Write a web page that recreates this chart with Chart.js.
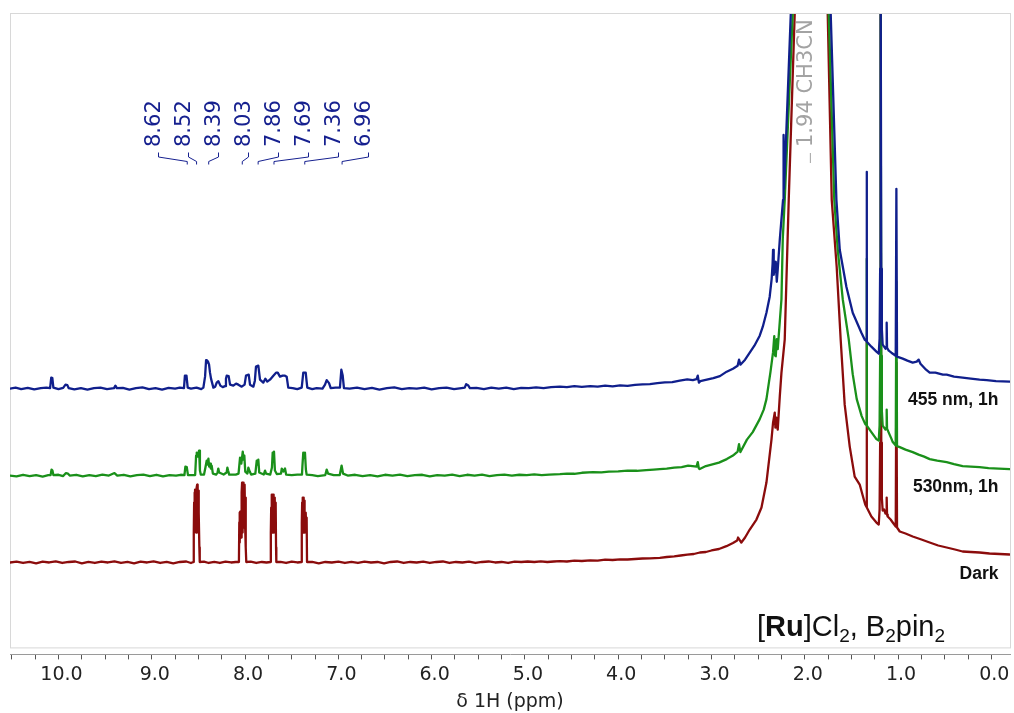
<!DOCTYPE html>
<html>
<head>
<meta charset="utf-8">
<script src="https://cdn.jsdelivr.net/npm/chart.js@4.4.1/dist/chart.umd.min.js"></script>
<style>
html,body{margin:0;padding:0;background:#fff;}
#wrap{width:1014px;height:713px;position:relative;}
</style>
</head>
<body>
<div id="wrap"><canvas id="c" width="1014" height="713"></canvas></div>
<script>
// ---- DATA (ppm, intensity relative to each trace's own baseline) ----
const traceNames = ['455 nm, 1h', '530nm, 1h', 'Dark'];
const traceOffsets = [17.4, 8.7, 0];

const blue455 = [
[10.52,0.00],[10.46,0.10],[10.40,-0.05],[10.33,0.08],[10.26,-0.08],[10.19,0.05],[10.13,0.10],[10.09,0.05],[10.078,1.10],[10.066,1.05],[10.055,0.10],[10.00,-0.05],[9.95,0.08],[9.925,0.40],[9.905,0.35],[9.89,0.05],[9.83,-0.08],[9.76,0.05],[9.69,-0.10],[9.62,0.05],[9.55,0.10],[9.48,-0.05],[9.405,0.05],[9.39,0.30],[9.375,0.05],[9.31,0.08],[9.24,-0.10],[9.17,0.05],[9.10,0.12],[9.03,-0.05],[8.96,0.05],[8.89,-0.10],[8.82,0.08],[8.75,0.00],[8.70,0.10],
[8.655,0.05],[8.645,1.30],[8.628,1.30],[8.615,0.10],[8.58,0.00],[8.52,0.10],[8.47,-0.05],
[8.447,0.10],[8.429,1.20],[8.418,2.85],[8.412,2.60],[8.405,2.80],[8.397,2.70],[8.386,2.40],[8.376,1.60],[8.365,1.00],[8.354,0.60],[8.34,0.10],[8.32,0.20],[8.304,0.60],[8.286,0.75],[8.265,0.30],[8.24,0.15],[8.215,0.25],[8.205,1.00],[8.197,1.30],[8.176,1.25],[8.161,0.40],[8.126,0.30],[8.097,0.50],[8.072,0.40],[8.036,0.20],[8.005,0.40],[7.99,1.30],[7.961,1.40],[7.947,0.40],[7.911,0.20],[7.895,0.80],[7.883,2.20],[7.858,2.30],[7.84,0.90],[7.805,0.60],[7.783,1.00],[7.762,0.70],[7.733,0.90],[7.697,1.30],[7.668,1.60],[7.65,1.60],[7.626,1.20],[7.597,1.30],[7.572,1.30],[7.554,1.20],[7.537,0.10],[7.49,0.05],[7.44,-0.05],[7.393,0.10],[7.385,0.80],[7.376,1.60],[7.35,1.60],[7.34,0.70],[7.333,0.10],[7.28,-0.05],[7.233,0.05],[7.17,0.00],[7.143,0.40],[7.125,0.85],[7.10,0.55],[7.082,0.05],[7.03,0.10],[6.983,0.10],[6.968,1.90],[6.954,1.35],[6.94,0.05],
[6.88,0.00],[6.80,0.10],[6.72,-0.05],[6.64,0.08],[6.56,-0.10],[6.48,0.05],[6.40,0.12],[6.32,-0.05],[6.24,0.05],[6.16,0.00],[6.08,0.10],[6.00,-0.08],[5.92,0.05],[5.84,0.10],[5.76,-0.05],[5.68,0.05],[5.645,0.10],[5.63,0.45],[5.61,0.35],[5.59,0.05],[5.52,0.08],[5.44,-0.05],[5.36,0.10],[5.28,0.00],[5.20,0.10],[5.12,-0.05],[5.04,0.08],[4.96,0.05],[4.88,0.12],[4.80,0.05],[4.72,0.15],
[4.625,0.20],[4.55,0.15],[4.47,0.25],[4.39,0.18],[4.30,0.25],[4.22,0.20],[4.14,0.30],[4.06,0.22],[3.98,0.32],[3.90,0.28],[3.82,0.38],[3.74,0.42],[3.66,0.45],[3.58,0.55],[3.50,0.62],[3.42,0.65],[3.34,0.80],[3.26,0.92],[3.20,0.85],[3.16,0.95],[3.147,1.30],[3.135,0.60],[3.12,0.75],[3.05,0.90],[2.98,1.05],[2.91,1.25],[2.837,1.70],[2.77,2.00],[2.72,2.30],[2.705,2.90],[2.69,2.40],[2.64,2.90],[2.59,3.60],[2.54,4.30],[2.483,5.30],[2.45,6.20],[2.411,7.60],[2.376,9.20],[2.355,11.00],[2.345,12.50],[2.340,13.90],[2.333,11.40],[2.325,12.00],[2.311,12.70],[2.300,10.70],[2.290,11.90],[2.268,14.90],[2.233,18.90],[2.229,19.40],[2.2254,25.40],[2.2225,20.00],[2.199,25.40],[2.150,37.50],[2.14,40.00],
[1.94,300],
[1.73,40.00],[1.722,37.50],[1.661,18.90],[1.625,13.90],[1.554,10.20],[1.486,7.60],[1.393,5.60],[1.357,4.90],[1.341,4.80],[1.337,21.70],[1.333,4.70],[1.286,4.20],[1.232,3.70],[1.207,3.50],[1.198,5.00],[1.192,12.0],[1.189,40.0],[1.186,300],[1.183,40.0],[1.180,12.0],[1.174,6.0],[1.165,4.40],[1.135,4.00],[1.126,4.20],[1.122,6.60],[1.118,4.10],[1.10,3.80],[1.0715,3.60],[1.025,3.30],[1.018,20.0],[1.011,3.20],[0.95,3.00],[0.90,2.80],[0.843,2.60],[0.80,2.70],[0.779,2.90],[0.76,2.50],[0.70,1.90],[0.661,1.60],[0.60,1.60],[0.52,1.40],[0.479,1.40],[0.40,1.20],[0.308,1.10],[0.22,1.00],[0.126,0.90],[0.05,0.85],[-0.05,0.75],[-0.196,0.70]
];

const green530 = [
[10.52,0.00],[10.45,-0.08],[10.38,0.08],[10.31,-0.05],[10.24,0.05],[10.17,-0.10],[10.11,0.05],[10.085,0.05],[10.075,0.60],[10.065,0.50],[10.055,0.05],[10.00,0.08],[9.95,-0.05],[9.92,0.25],[9.90,0.20],[9.88,0.00],[9.81,0.08],[9.74,-0.08],[9.67,0.05],[9.60,-0.05],[9.53,0.10],[9.46,0.00],[9.40,0.25],[9.37,0.00],[9.30,0.08],[9.23,-0.08],[9.16,0.05],[9.09,0.10],[9.02,-0.05],[8.95,0.08],[8.88,-0.08],[8.81,0.05],[8.74,0.00],[8.69,0.08],
[8.65,0.05],[8.64,0.90],[8.625,0.85],[8.612,0.05],[8.56,0.05],[8.535,0.05],[8.525,2.00],[8.518,2.30],[8.506,1.90],[8.493,2.50],[8.484,0.50],[8.475,0.10],[8.44,0.10],[8.425,0.80],[8.411,1.50],[8.40,1.10],[8.393,1.70],[8.385,0.90],[8.376,1.20],[8.367,0.70],[8.358,1.00],[8.345,0.20],[8.31,0.10],[8.295,0.30],[8.287,0.70],[8.278,0.30],[8.23,0.10],[8.198,0.30],[8.19,0.80],[8.182,0.50],[8.17,0.10],[8.10,0.10],[8.07,0.20],[8.062,1.00],[8.054,1.80],[8.04,1.20],[8.025,2.40],[8.016,1.60],[8.008,2.00],[7.998,0.40],[7.975,0.20],[7.965,0.80],[7.95,0.40],[7.935,0.10],[7.89,0.20],[7.875,1.50],[7.866,1.10],[7.858,1.60],[7.848,0.30],[7.80,0.10],[7.786,0.50],[7.775,0.20],[7.73,0.10],[7.712,0.80],[7.704,2.30],[7.697,1.60],[7.69,2.40],[7.68,0.50],[7.66,0.15],[7.615,0.20],[7.607,0.70],[7.59,0.40],[7.572,0.70],[7.56,0.10],[7.50,0.05],[7.44,0.10],[7.39,0.10],[7.385,1.00],[7.376,2.30],[7.366,1.80],[7.358,2.30],[7.348,0.60],[7.34,0.10],[7.28,0.05],[7.22,-0.05],[7.14,0.05],[7.125,0.60],[7.11,0.20],[7.05,0.05],[6.985,0.05],[6.965,1.00],[6.95,0.20],
[6.90,0.00],[6.82,0.08],[6.74,-0.05],[6.66,0.05],[6.58,-0.08],[6.50,0.08],[6.42,0.00],[6.34,0.10],[6.26,-0.05],[6.18,0.05],[6.10,0.08],[6.02,-0.08],[5.94,0.05],[5.86,0.00],[5.78,0.10],[5.70,-0.05],[5.62,0.08],[5.54,0.00],[5.46,0.10],[5.38,-0.05],[5.30,0.05],[5.22,0.10],[5.14,0.00],[5.06,0.08],[4.98,0.05],[4.90,0.12],[4.82,0.05],[4.74,0.10],
[4.625,0.15],[4.55,0.20],[4.47,0.18],[4.39,0.28],[4.27,0.35],[4.18,0.32],[4.10,0.40],[4.00,0.42],[3.90,0.50],[3.80,0.48],[3.70,0.55],[3.62,0.60],[3.554,0.65],[3.48,0.70],[3.40,0.80],[3.32,0.85],[3.25,1.00],[3.18,0.92],[3.16,0.90],[3.147,1.35],[3.135,0.70],[3.126,0.65],[3.06,0.95],[3.00,1.10],[2.92,1.30],[2.836,1.65],[2.77,2.00],[2.72,2.40],[2.705,3.15],[2.69,2.35],[2.62,3.60],[2.558,4.35],[2.483,5.65],[2.44,6.60],[2.411,7.65],[2.368,10.35],[2.340,12.35],[2.327,13.95],[2.318,12.00],[2.311,11.95],[2.300,13.65],[2.290,12.65],[2.25,17.65],[2.236,23.65],[2.2147,27.65],[2.129,46.25],[2.12,50.0],
[1.94,300],
[1.75,50.0],[1.743,46.25],[1.684,27.65],[1.647,22.65],[1.593,17.65],[1.529,13.65],[1.486,10.15],[1.443,7.65],[1.39,5.95],[1.352,5.15],[1.341,5.10],[1.337,21.70],[1.333,5.00],[1.286,4.35],[1.232,3.65],[1.207,3.50],[1.198,5.0],[1.192,12.0],[1.189,40.0],[1.186,300],[1.183,40.0],[1.180,12.0],[1.174,6.5],[1.165,5.0],[1.135,4.6],[1.126,4.8],[1.122,6.6],[1.118,4.7],[1.10,4.3],[1.0715,3.7],[1.057,3.35],[1.025,3.00],[1.018,19.4],[1.011,2.95],[0.982,2.85],[0.92,2.60],[0.843,2.35],[0.78,2.10],[0.72,1.90],[0.661,1.65],[0.58,1.50],[0.479,1.35],[0.40,1.15],[0.308,0.95],[0.22,0.90],[0.126,0.85],[0.03,0.75],[-0.08,0.70],[-0.196,0.65]
];

const darkRef = [
[10.52,0.00],[10.45,0.08],[10.38,-0.05],[10.31,0.05],[10.24,-0.08],[10.17,0.08],[10.10,0.00],[10.03,0.10],[9.96,-0.05],[9.89,0.05],[9.82,0.10],[9.75,-0.08],[9.68,0.05],[9.61,-0.05],[9.54,0.08],[9.47,0.00],[9.40,0.10],[9.33,-0.05],[9.26,0.05],[9.19,-0.08],[9.12,0.08],[9.05,0.00],[8.98,0.10],[8.91,-0.05],[8.84,0.05],[8.77,-0.08],[8.70,0.05],[8.63,0.10],[8.58,-0.05],
[8.555,0.05],[8.550,3.00],[8.546,6.00],[8.542,7.00],[8.539,4.00],[8.536,7.30],[8.533,3.50],[8.529,7.00],[8.526,3.00],[8.522,7.20],[8.519,3.50],[8.516,7.50],[8.513,7.80],[8.510,3.50],[8.507,7.70],[8.503,3.00],[8.499,7.20],[8.495,5.00],[8.490,1.50],[8.486,0.05],
[8.44,0.08],[8.39,-0.05],[8.33,0.05],[8.27,-0.05],[8.21,0.08],[8.15,0.00],[8.10,0.05],
[8.066,0.05],[8.062,4.00],[8.059,5.00],[8.056,2.00],[8.052,5.10],[8.049,2.50],[8.046,5.10],[8.042,2.50],[8.039,5.00],[8.035,7.00],[8.032,8.00],[8.028,3.00],[8.025,8.00],[8.021,3.50],[8.018,8.00],[8.015,3.50],[8.011,7.80],[8.007,4.00],[8.003,7.80],[7.999,3.50],[7.995,6.50],[7.991,1.50],[7.987,0.05],
[7.94,0.08],[7.88,-0.05],[7.82,0.05],[7.77,0.00],
[7.728,0.05],[7.724,3.00],[7.720,5.50],[7.716,3.00],[7.712,6.80],[7.708,3.00],[7.704,6.80],[7.700,3.00],[7.696,6.80],[7.692,3.00],[7.688,6.50],[7.684,3.00],[7.680,6.30],[7.676,3.00],[7.672,6.00],[7.668,1.50],[7.665,0.05],
[7.62,0.05],[7.56,-0.05],[7.50,0.08],[7.44,0.00],
[7.396,0.05],[7.392,4.00],[7.388,6.00],[7.384,3.00],[7.380,6.50],[7.376,3.00],[7.372,6.50],[7.368,3.00],[7.364,6.20],[7.360,3.00],[7.356,5.00],[7.352,3.00],[7.348,5.00],[7.344,3.00],[7.340,4.50],[7.336,0.05],
[7.28,0.05],[7.21,-0.08],[7.14,0.05],[7.07,0.00],[7.00,0.08],[6.93,-0.05],
[6.86,0.05],[6.79,-0.05],[6.72,0.08],[6.65,0.00],[6.58,0.05],[6.51,-0.08],[6.44,0.05],[6.37,0.10],[6.30,-0.05],[6.23,0.05],[6.16,0.00],[6.09,0.08],[6.02,-0.05],[5.95,0.05],[5.88,0.10],[5.81,-0.05],[5.74,0.05],[5.67,0.00],[5.60,0.08],[5.53,-0.05],[5.46,0.05],[5.39,0.10],[5.32,0.00],[5.25,0.05],[5.18,-0.05],[5.11,0.08],[5.04,0.05],[4.97,0.10],[4.90,0.05],[4.83,0.12],[4.76,0.05],[4.69,0.10],
[4.625,0.13],[4.55,0.10],[4.47,0.18],[4.39,0.15],[4.30,0.22],[4.22,0.18],[4.14,0.28],[4.06,0.25],[3.98,0.32],[3.90,0.30],[3.82,0.35],[3.74,0.40],[3.66,0.42],[3.554,0.47],[3.48,0.55],[3.40,0.62],[3.33,0.70],[3.26,0.78],[3.19,0.85],[3.125,1.00],[3.06,1.05],[3.00,1.20],[2.92,1.35],[2.84,1.63],[2.77,1.95],[2.725,2.20],[2.715,2.50],[2.68,2.00],[2.64,2.50],[2.59,3.30],[2.518,4.30],[2.464,5.50],[2.411,8.00],[2.357,12.30],[2.340,14.00],[2.322,15.00],[2.315,13.50],[2.305,14.50],[2.290,13.30],[2.268,16.60],[2.25,19.00],[2.215,22.30],[2.172,36.30],[2.108,54.90],[2.10,57.0],
[1.94,300],
[1.76,57.0],[1.754,54.90],[1.711,36.30],[1.658,29.60],[1.615,22.30],[1.572,15.80],[1.518,11.60],[1.465,8.60],[1.411,7.80],[1.382,6.80],[1.352,5.80],[1.341,5.60],[1.337,22.40],[1.333,5.50],[1.286,4.60],[1.232,4.00],[1.207,3.80],[1.198,5.3],[1.192,12.0],[1.189,40.0],[1.186,300],[1.183,40.0],[1.180,12.0],[1.174,6.5],[1.165,5.2],[1.149,5.3],[1.135,4.9],[1.126,5.0],[1.122,6.5],[1.118,4.8],[1.111,4.6],[1.08,4.3],[1.057,4.00],[1.025,3.60],[1.018,20.0],[1.011,3.50],[0.982,3.10],[0.92,2.90],[0.843,2.60],[0.75,2.30],[0.661,2.00],[0.57,1.70],[0.479,1.50],[0.39,1.30],[0.308,1.10],[0.22,1.05],[0.126,1.00],[0.02,0.90],[-0.09,0.85],[-0.196,0.80]
];

const peakLabels = ['8.62','8.52','8.39','8.03','7.86','7.69','7.36','6.96'];
const peakPpm = [8.62, 8.52, 8.39, 8.03, 7.86, 7.69, 7.36, 6.96];
const solventLabel = '1.94 CH3CN';
const solventPpm = 1.94;
const majorTickValues = [10,9,8,7,6,5,4,3,2,1,0];
const tickLabels = ['10.0','9.0','8.0','7.0','6.0','5.0','4.0','3.0','2.0','1.0','0.0'];
const axisTitle = 'δ 1H (ppm)';
const titleRuns = [['[',false,false],['Ru',true,false],[']Cl',false,false],['2',false,true],[', B',false,false],['2',false,true],['pin',false,false],['2',false,true]];

// ---- CHART ----
const colors = ['#101f8c', '#1a901a', '#8b0c0c'];
const rawSeries = [blue455, green530, darkRef];

const datasets = rawSeries.map((arr, i) => ({
  label: traceNames[i],
  data: arr.map(p => ({x: p[0], y: p[1] + traceOffsets[i]})),
  borderColor: colors[i],
  borderWidth: 2.3,
  pointRadius: 0,
  tension: 0,
  fill: false,
  borderJoinStyle: 'round',
  borderCapStyle: 'round'
}));

const minorTicks = [];
for (let v = 10.5; v >= -0.001; v -= 0.25) minorTicks.push(Math.round(v * 100) / 100);

const navy = '#16208f';

const annot = {
  id: 'annot',
  beforeDatasetsDraw(chart) {
    const {ctx, chartArea: a} = chart;
    ctx.save();
    ctx.strokeStyle = '#d8d8d8';
    ctx.lineWidth = 1;
    ctx.strokeRect(a.left + 0.5, a.top - 0.5, a.right - a.left, a.bottom - a.top - 6);
    ctx.restore();
  },
  afterDatasetsDraw(chart) {
    const {ctx, chartArea: a, scales} = chart;
    const xs = scales.x, ys = scales.y;
    ctx.save();
    ctx.beginPath();
    ctx.rect(a.left, a.top, a.right - a.left, a.bottom - a.top);
    ctx.clip();
    ctx.font = '21px "DejaVu Sans"';
    peakLabels.forEach((t, i) => {
      const ax = a.left + 148.5 + 30 * i;
      const px = xs.getPixelForValue(peakPpm[i]);
      ctx.save();
      ctx.translate(ax - 3.5, a.top + 133);
      ctx.rotate(-Math.PI / 2);
      ctx.textAlign = 'left';
      ctx.textBaseline = 'middle';
      ctx.fillStyle = navy;
      ctx.fillText(t, 0, 0);
      ctx.restore();
      ctx.beginPath();
      ctx.moveTo(ax, a.top + 138.5);
      ctx.lineTo(ax, a.top + 143);
      ctx.lineTo(px, a.top + 147.5);
      ctx.lineTo(px, a.top + 150.5);
      ctx.strokeStyle = navy;
      ctx.lineWidth = 1;
      ctx.stroke();
    });
    const sx = xs.getPixelForValue(solventPpm);
    ctx.save();
    ctx.translate(sx - 3.5, a.top + 133);
    ctx.rotate(-Math.PI / 2);
    ctx.textAlign = 'left';
    ctx.textBaseline = 'middle';
    ctx.fillStyle = '#a3a3a3';
    ctx.fillText(solventLabel, 0, 0);
    ctx.restore();
    ctx.beginPath();
    ctx.moveTo(sx, a.top + 139);
    ctx.lineTo(sx, a.top + 149);
    ctx.strokeStyle = '#a3a3a3';
    ctx.lineWidth = 1;
    ctx.stroke();
    ctx.font = 'bold 17.5px "Liberation Sans"';
    ctx.fillStyle = '#111';
    ctx.textAlign = 'right';
    ctx.textBaseline = 'alphabetic';
    traceNames.forEach((t, i) => {
      ctx.fillText(t, a.right - 11.5, ys.getPixelForValue(traceOffsets[i]) + 16.5);
    });
    let x = a.right - 253;
    const by = a.bottom - 18;
    ctx.textAlign = 'left';
    titleRuns.forEach(([t, bold, sub]) => {
      ctx.font = (bold ? 'bold ' : '') + (sub ? '19px' : '29px') + ' "Liberation Sans"';
      ctx.fillText(t, x, by + (sub ? 6 : 0));
      x += ctx.measureText(t).width;
    });
    ctx.restore();
  }
};

Chart.defaults.font.family = '"DejaVu Sans"';

new Chart(document.getElementById('c'), {
  type: 'line',
  data: { datasets },
  options: {
    responsive: false,
    animation: false,
    devicePixelRatio: 1,
    layout: { padding: { left: 10, right: 4, top: 14, bottom: 0 } },
    plugins: { legend: { display: false }, tooltip: { enabled: false } },
    scales: {
      x: {
        type: 'linear',
        reverse: true,
        min: -0.2,
        max: 10.52,
        afterBuildTicks: (s) => { s.ticks = minorTicks.map(v => ({value: v})); },
        ticks: {
          autoSkip: false,
          maxRotation: 0,
          padding: 4,
          labelOffset: 3,
          color: '#222',
          font: { size: 19 },
          callback: (v) => {
            const k = majorTickValues.findIndex(m => Math.abs(m - v) < 1e-6);
            return k >= 0 ? tickLabels[k] : '';
          }
        },
        grid: { drawOnChartArea: false, drawTicks: true, tickLength: 5, color: '#555', tickColor: '#555' },
        border: { display: true, color: '#9a9a9a', width: 1 },
        title: { display: true, text: axisTitle, color: '#222', font: { size: 19 }, padding: { top: 0, bottom: 0 } }
      },
      y: { display: false, min: -9.2, max: 54.9 }
    }
  },
  plugins: [annot]
});
</script>
</body>
</html>
